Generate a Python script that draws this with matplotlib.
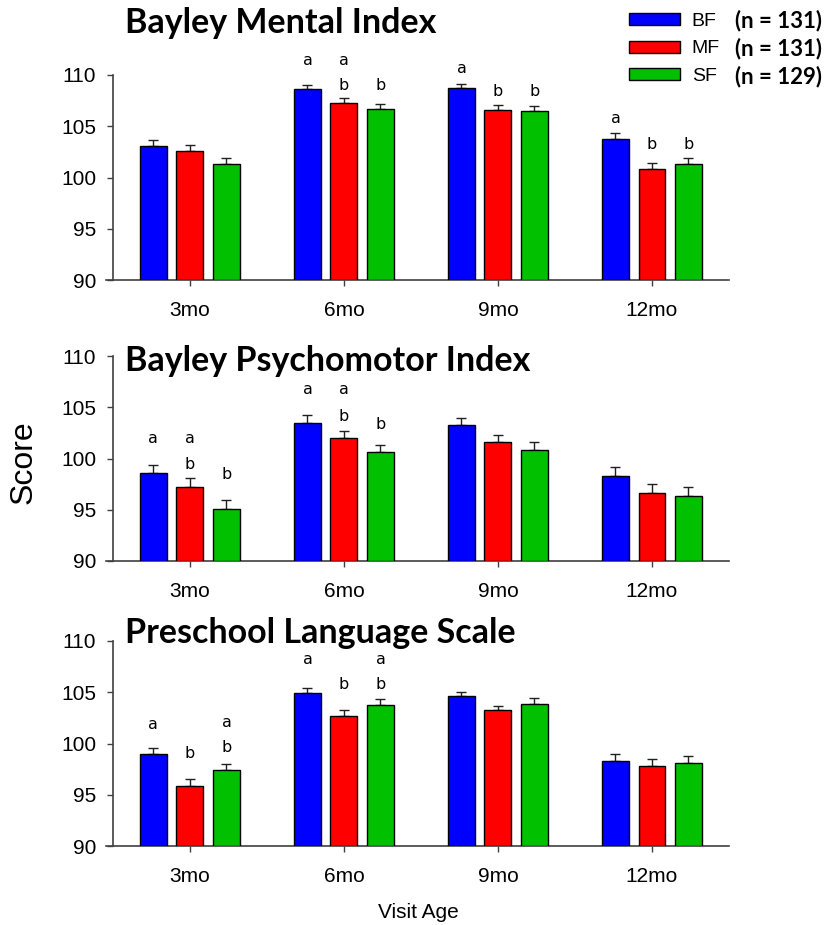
import matplotlib
matplotlib.use("Agg")
import matplotlib.pyplot as plt
import numpy as np
from matplotlib.patches import Patch

# ---- data ----
visits = ["3mo", "6mo", "9mo", "12mo"]
groups = ["BF", "MF", "SF"]
group_n = ["(n = 131)", "(n = 131)", "(n = 129)"]
colors = ["#0000FF", "#FF0000", "#00C000"]

titles = ["Bayley Mental Index", "Bayley Psychomotor Index", "Preschool Language Scale"]

# mean scores per group (rows: BF, MF, SF; columns: visits)
mental_mean = [[103.1, 108.6, 108.7, 103.8],
               [102.6, 107.3, 106.6, 100.8],
               [101.3, 106.7, 106.5, 101.3]]
mental_se = [[0.6, 0.45, 0.45, 0.55],
             [0.6, 0.5, 0.45, 0.6],
             [0.6, 0.45, 0.45, 0.6]]

psycho_mean = [[98.6, 103.5, 103.3, 98.3],
               [97.2, 102.0, 101.6, 96.6],
               [95.1, 100.6, 100.8, 96.3]]
psycho_se = [[0.8, 0.7, 0.65, 0.85],
             [0.85, 0.7, 0.7, 0.9],
             [0.9, 0.7, 0.8, 0.9]]

language_mean = [[99.0, 104.9, 104.6, 98.3],
                 [95.9, 102.7, 103.3, 97.8],
                 [97.4, 103.8, 103.9, 98.1]]
language_se = [[0.6, 0.5, 0.45, 0.65],
               [0.65, 0.55, 0.4, 0.65],
               [0.6, 0.5, 0.5, 0.65]]

# significance letters: (visit index, group index, letter, baseline in score units)
mental_letters = [(1, 0, "a", 111.0), (1, 1, "a", 111.0), (1, 1, "b", 108.5), (1, 2, "b", 108.5),
                  (2, 0, "a", 110.2), (2, 1, "b", 108.0), (2, 2, "b", 108.0),
                  (3, 0, "a", 105.3), (3, 1, "b", 102.8), (3, 2, "b", 102.8)]
psycho_letters = [(0, 0, "a", 101.55), (0, 1, "a", 101.55), (0, 1, "b", 99.0), (0, 2, "b", 98.0),
                  (1, 0, "a", 106.25), (1, 1, "a", 106.25), (1, 1, "b", 103.7), (1, 2, "b", 102.9)]
language_letters = [(0, 0, "a", 101.45), (0, 1, "b", 98.6), (0, 2, "a", 101.6), (0, 2, "b", 99.2),
                    (1, 0, "a", 107.75), (1, 1, "b", 105.3), (1, 2, "a", 107.75), (1, 2, "b", 105.3)]

panels = [(mental_mean, mental_se, mental_letters),
          (psycho_mean, psycho_se, psycho_letters),
          (language_mean, language_se, language_letters)]

y_ticks = [90, 95, 100, 105, 110]

# ---- figure ----
W, H = 834, 925
fig = plt.figure(figsize=(W / 100, H / 100), dpi=100)

def px_x(p):
    return p / W

def px_y(p):
    return 1 - p / H

tick_font = "Liberation Sans"
title_font = "Lato"
axis_grey = "#404040"

panel_tops = [75, 356, 641]
panel_h = 205
ax_left, ax_right = 106, 729
title_baselines = [33, 371, 643]

x = np.arange(len(visits))
offsets = [-0.237, 0.0, 0.237]
bar_w = 0.175

for k, (means, ses, letters) in enumerate(panels):
    top = panel_tops[k]
    ax = fig.add_axes([px_x(ax_left), px_y(top + panel_h), px_x(ax_right - ax_left), panel_h / H])
    for g in range(len(groups)):
        xs = x + offsets[g]
        ax.errorbar(xs, means[g], yerr=[np.zeros(len(visits)), ses[g]], fmt="none",
                    ecolor="#202020", elinewidth=1.0, capsize=3.6, capthick=1.0, zorder=2)
        ax.bar(xs, np.array(means[g]) - 90, bottom=90, width=bar_w, color=colors[g],
               edgecolor="black", linewidth=1.0, zorder=3)
    for vi, gi, letter, yb in letters:
        ax.text(x[vi] + offsets[gi], yb, letter, ha="center", va="baseline",
                fontsize=11.5, family="DejaVu Sans", color="black", clip_on=False)

    ax.set_xlim(-0.545, 3.5)
    ax.set_ylim(90, 110)
    ax.set_yticks(y_ticks)
    ax.set_xticks(x)
    ax.set_xticklabels(visits)
    for s in ("top", "right"):
        ax.spines[s].set_visible(False)
    ax.spines["left"].set_position(("data", -0.5))
    for s in ("left", "bottom"):
        ax.spines[s].set_color(axis_grey)
        ax.spines[s].set_linewidth(1.2)
    ax.tick_params(axis="both", direction="out", color=axis_grey, width=1.0, length=4,
                   labelsize=15, labelcolor="black")
    ax.tick_params(axis="x", pad=11)
    ax.tick_params(axis="y", pad=8)
    for lab in ax.get_xticklabels() + ax.get_yticklabels():
        lab.set_family(tick_font)

    fig.text(px_x(125), px_y(title_baselines[k]), titles[k], ha="left", va="baseline",
             fontsize=24.5, fontweight="bold", family=title_font)

fig.text(px_x(24), px_y(462), "Score", rotation=90, ha="center", va="center",
         fontsize=23, family=tick_font)
fig.text(px_x(418), px_y(912), "Visit Age", ha="center", va="center",
         fontsize=15, family=tick_font)

handles = [Patch(facecolor=c, edgecolor="black", linewidth=1.0) for c in colors]
leg = fig.legend(handles, groups, loc="upper left", bbox_to_anchor=(px_x(629), px_y(12.5)),
                 frameon=False, borderpad=0, borderaxespad=0, handlelength=2.63,
                 handleheight=0.57, handletextpad=0.6, labelspacing=0.56,
                 prop={"family": tick_font, "size": 14})

fig.canvas.draw()
renderer = fig.canvas.get_renderer()
for txt, n_lab in zip(leg.get_texts(), group_n):
    bb = txt.get_window_extent(renderer)
    cy = (bb.y0 + bb.y1) / 2 / H
    fig.text(px_x(735), cy, n_lab, ha="left", va="center", fontsize=16,
             fontweight="bold", family=title_font)

fig.savefig("out.png", dpi=100)
